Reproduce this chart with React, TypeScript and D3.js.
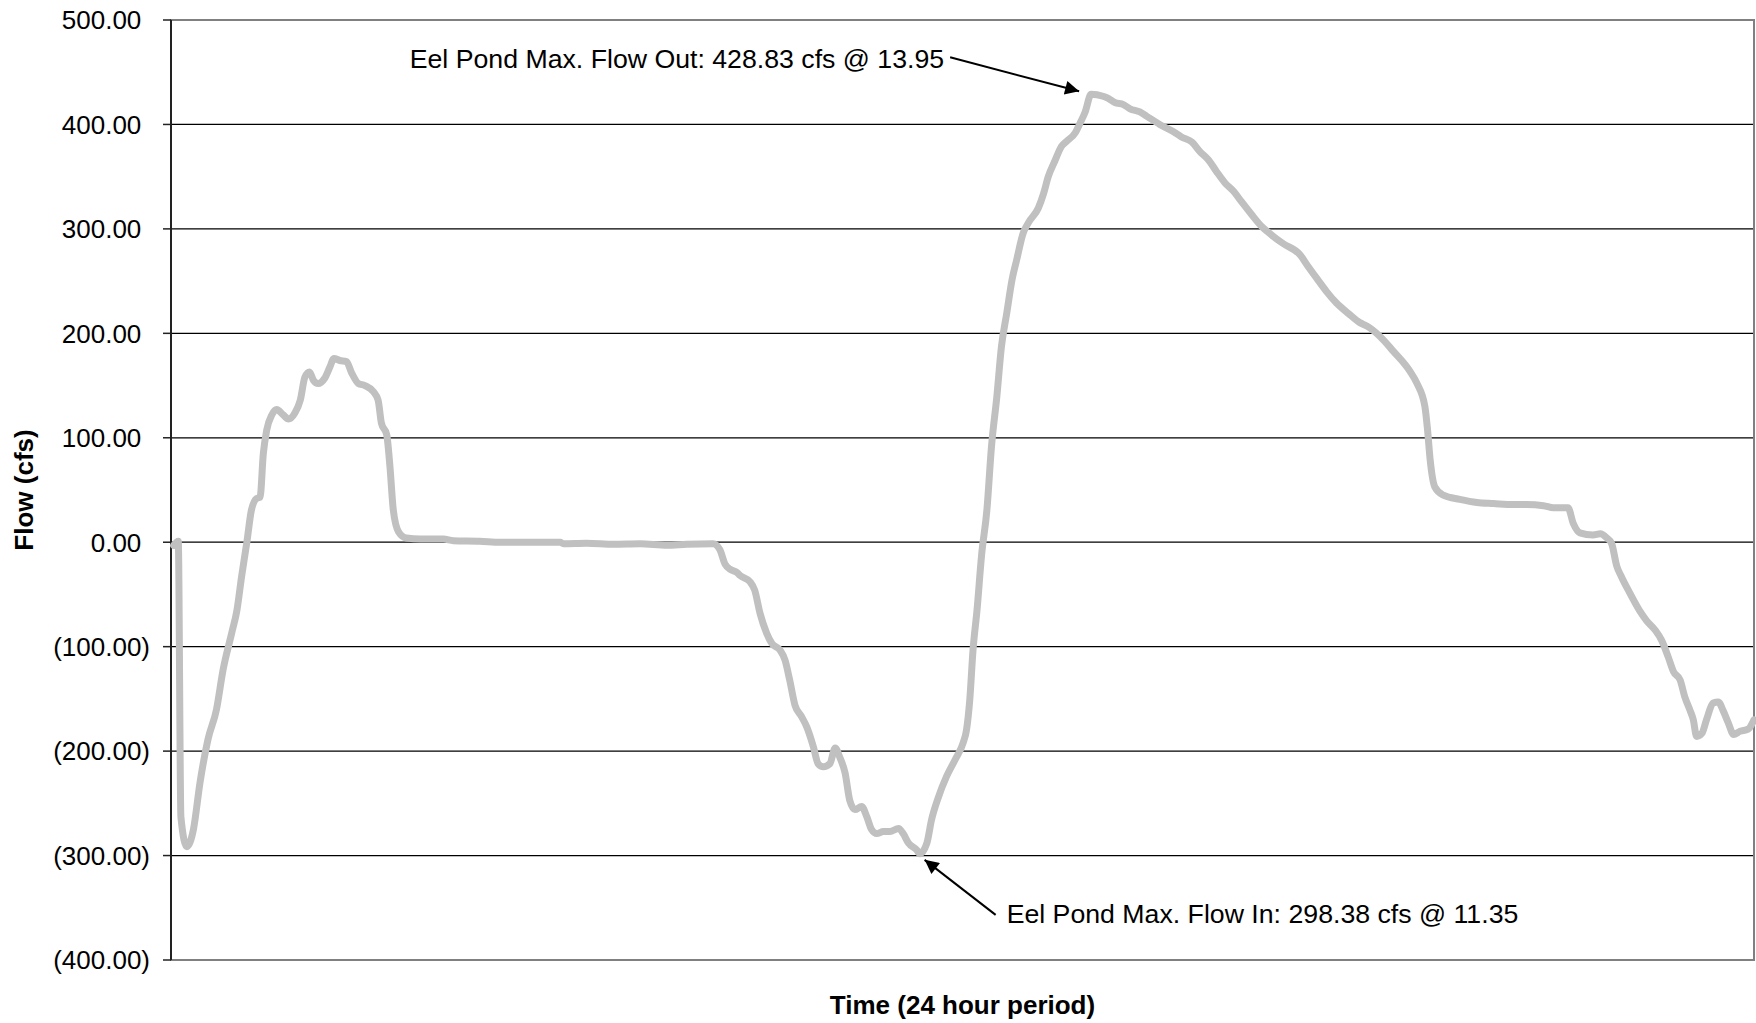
import React from "react";
import * as d3 from "d3";

// Time (hours) and flow (cfs)
const times: number[] = [
  0.04, 0.11, 0.15, 0.24, 0.34, 0.44, 0.56, 0.69, 0.79, 0.92, 1.0, 1.07, 1.15, 1.22, 1.3, 1.35, 1.4, 1.45,
  1.53, 1.6, 1.7, 1.78, 1.88, 1.96, 2.03, 2.1, 2.16, 2.23, 2.33, 2.41, 2.47, 2.56, 2.66, 2.74, 2.84, 2.94,
  3.07, 3.14, 3.19, 3.27, 3.32, 3.37, 3.45, 3.57, 3.78, 4.13, 4.28, 4.68, 4.99, 5.9, 5.95, 6.3, 6.71, 7.11,
  7.52, 7.82, 8.22, 8.32, 8.4, 8.48, 8.58, 8.63, 8.78, 8.85, 8.93, 9.03, 9.11, 9.23, 9.31, 9.38, 9.46, 9.56,
  9.64, 9.74, 9.81, 9.89, 9.99, 10.07, 10.14, 10.22, 10.29, 10.37, 10.47, 10.55, 10.62, 10.7, 10.8, 10.9,
  11.03, 11.1, 11.18, 11.31, 11.35, 11.46, 11.53, 11.63, 11.76, 11.89, 12.01, 12.06, 12.11, 12.16, 12.22,
  12.29, 12.37, 12.44, 12.52, 12.59, 12.67, 12.75, 12.82, 12.92, 13.0, 13.15, 13.23, 13.3, 13.4, 13.5,
  13.58, 13.71, 13.78, 13.86, 13.95, 14.13, 14.21, 14.31, 14.44, 14.54, 14.69, 14.79, 14.99, 15.2, 15.32,
  15.48, 15.6, 15.73, 15.85, 15.98, 16.11, 16.23, 16.38, 16.54, 16.69, 16.86, 17.12, 17.24, 17.39, 17.52,
  17.67, 17.85, 18.03, 18.13, 18.33, 18.53, 18.78, 18.89, 19.01, 19.05, 19.09, 19.16, 19.29, 19.54, 19.8,
  20.05, 20.35, 20.55, 20.81, 20.96, 21.18, 21.26, 21.36, 21.56, 21.67, 21.77, 21.84, 21.92, 21.99, 22.12,
  22.27, 22.37, 22.5, 22.6, 22.7, 22.78, 22.88, 22.95, 23.03, 23.08, 23.13, 23.21, 23.28, 23.38, 23.46,
  23.53, 23.61, 23.69, 23.79, 23.91, 24.0,
];

const flows: number[] = [
  -3, 1, -263, -291.5, -275, -230, -189, -160, -122, -87, -65, -33, 0, 31, 42, 43, 85, 107,
  122, 127, 122, 118, 124, 136, 158, 163, 155, 152, 157, 168, 176, 174, 173, 162, 152, 150,
  144, 136, 114, 103, 72, 31, 10, 4, 3, 3, 1.5, 1, 0, 0, -1.5, -1, -2, -1.5,
  -3, -2, -1.5, -7, -21, -26, -29, -32, -38, -46, -68, -87, -97, -103, -113, -132, -156, -167,
  -177, -196, -212, -215, -212, -197, -206, -221, -247, -256, -253, -263, -275, -279, -277, -277,
  -274, -279, -288, -295, -298.38, -288, -266, -245, -224, -208, -192, -180, -151, -103, -65,
  -12, 31, 92, 139, 187, 219, 251, 270, 296, 306, 320, 334, 350, 365, 379,
  384, 392, 401, 412, 428.83, 427, 425, 421, 419, 415, 412, 408, 400, 393, 388,
  383, 374, 366, 355, 344, 336, 326, 314, 302, 294, 286, 275, 264, 251, 240,
  229, 219, 210, 207, 197, 183, 164, 152, 130, 108, 79, 53, 45, 41, 38,
  37, 36, 36, 35, 33, 33, 18, 9, 7, 8, 4, -1, -23, -33, -49,
  -66, -75, -84, -94, -110, -124, -132, -148, -161, -170, -186, -183, -170, -154, -153,
  -161, -173, -184, -181, -179, -170,
];

const yTicks: number[] = [500, 400, 300, 200, 100, 0, -100, -200, -300, -400];

const yAxisTitle = "Flow (cfs)";
const xAxisTitle = "Time (24 hour period)";
const maxOutLabel = "Eel Pond Max. Flow Out: 428.83 cfs @ 13.95";
const maxInLabel = "Eel Pond Max. Flow In: 298.38 cfs @ 11.35";
const maxOut = { t: 13.95, v: 428.83 };
const maxIn = { t: 11.35, v: -298.38 };

const W = 1756;
const H = 1023;
const L = 171;
const R = 1754;
const T = 20;
const B = 960;
const FONT = "'Liberation Sans', Arial, Helvetica, sans-serif";
const FS = 26;
const FS_ANN = 26.7;

const fmt = (v: number) => {
  const s = d3.format(",.2f")(Math.abs(v));
  return v < 0 ? `(${s})` : s;
};

export default function App() {
  const x = d3.scaleLinear().domain([0, 24]).range([L, R]);
  const y = d3.scaleLinear().domain([-400, 500]).range([B, T]);
  const pts = times.map((t, i) => [t, flows[i]] as [number, number]);
  const line = d3
    .line<[number, number]>()
    .x((d) => x(d[0]))
    .y((d) => y(d[1]))
    .curve(d3.curveMonotoneX);

  const ox = x(maxOut.t);
  const oy = y(maxOut.v);
  const ix = x(maxIn.t);
  const iy = y(maxIn.v);
  const parenW = FS * 0.333;

  return (
    <svg
      width={W}
      height={H}
      style={{ position: "absolute", left: 0, top: 0, display: "block", background: "#fff" }}
      fontFamily={FONT}
    >
      <defs>
        <marker
          id="ah"
          viewBox="0 0 10 10"
          refX="10"
          refY="5"
          markerWidth="8"
          markerHeight="7"
          markerUnits="strokeWidth"
          orient="auto"
        >
          <path d="M0,0 L10,5 L0,10 z" fill="#000" />
        </marker>
      </defs>
      <rect x={0} y={0} width={W} height={H} fill="#fff" />
      {/* gridlines */}
      {yTicks.map((v) => (
        <line key={"g" + v} x1={L} x2={R} y1={y(v)} y2={y(v)} stroke="#000" strokeWidth={1.3} />
      ))}
      {/* plot frame */}
      <rect x={L} y={T} width={R - L} height={B - T} fill="none" stroke="#808080" strokeWidth={2} />
      {/* y axis */}
      <line x1={L} x2={L} y1={T} y2={B} stroke="#222" strokeWidth={2} />
      {yTicks.map((v) => (
        <g key={"t" + v}>
          <line x1={L - 8} x2={L} y1={y(v)} y2={y(v)} stroke="#222" strokeWidth={1.5} />
          <text
            x={v < 0 ? 150 : 150 - parenW}
            y={y(v) + 9.3}
            textAnchor="end"
            fontSize={FS}
            fill="#000"
          >
            {fmt(v)}
          </text>
        </g>
      ))}
      {/* data line */}
      <path
        d={line(pts) || ""}
        fill="none"
        stroke="#c0c0c0"
        strokeWidth={7}
        strokeLinejoin="round"
        strokeLinecap="round"
      />
      {/* annotations */}
      <text x={ox - 147} y={oy - 26} textAnchor="end" fontSize={FS_ANN} fill="#000">
        {maxOutLabel}
      </text>
      <line
        x1={ox - 141}
        y1={oy - 37}
        x2={ox - 12}
        y2={oy - 3}
        stroke="#000"
        strokeWidth={2}
        markerEnd="url(#ah)"
      />
      <text x={ix + 87} y={iy + 69} textAnchor="start" fontSize={FS_ANN} fill="#000">
        {maxInLabel}
      </text>
      <line
        x1={ix + 76}
        y1={iy + 61}
        x2={ix + 5}
        y2={iy + 6}
        stroke="#000"
        strokeWidth={2}
        markerEnd="url(#ah)"
      />
      {/* axis titles */}
      <text
        x={(L + R) / 2}
        y={1014}
        textAnchor="middle"
        fontSize={FS}
        fontWeight="bold"
        fill="#000"
      >
        {xAxisTitle}
      </text>
      <text
        transform={`translate(33,${(T + B) / 2}) rotate(-90)`}
        textAnchor="middle"
        fontSize={FS}
        fontWeight="bold"
        fill="#000"
      >
        {yAxisTitle}
      </text>
    </svg>
  );
}
